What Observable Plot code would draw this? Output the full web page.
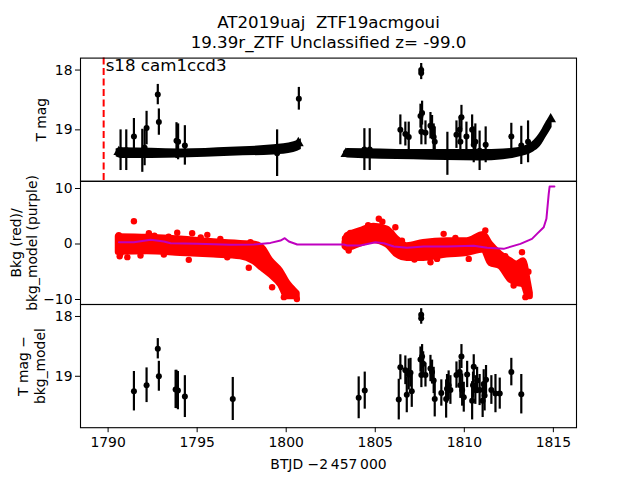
<!DOCTYPE html>
<html><head><meta charset="utf-8">
<script src="https://cdn.jsdelivr.net/npm/d3@7"></script>
<script src="https://cdn.jsdelivr.net/npm/@observablehq/plot@0.6"></script>
<style>
body{margin:0;background:#fff;}
#fig{position:relative;width:640px;height:480px;}
#fig svg{position:absolute;left:0;top:0;}
</style></head><body><div id="fig"></div>
<script>
// ---------- text ----------
const title1 = "AT2019uaj  ZTF19acmgoui";
const title2 = "19.39r_ZTF Unclassified z= -99.0";
const ccdLabel = "s18 cam1ccd3";
const ylabel1 = "T mag";
const ylabel2 = "Bkg (red)/\nbkg_model (purple)";
const ylabel3 = "T mag \u2212\nbkg_model";
const xlabel = "BTJD \u22122\u2009457\u2009000";
const xTicks = [1790, 1795, 1800, 1805, 1810, 1815];
const magTicks = [18, 19];
const bkgTicks = [-10, 0, 10];
const vline = [1789.75];

// ---------- panel 1: dense T mag band (edges) ----------
const bandSeg = [1,1,1,1,1,1,1, 2,2,2,2,2,2,2,2,2,2];
const bandT  = [1790.45,1790.8,1794.07,1796.87,1799.3,1800.43,1800.85, 1803.23,1803.45,1807.16,1810.9,1812.2,1812.96,1813.89,1814.27,1814.65,1814.93];
const bandHi = [19.32,19.30,19.32,19.29,19.25,19.20,19.15, 19.36,19.31,19.33,19.33,19.32,19.30,19.18,19.04,18.85,18.80];
const bandLo = [19.45,19.48,19.47,19.44,19.42,19.38,19.33, 19.44,19.47,19.50,19.52,19.50,19.46,19.37,19.28,19.10,18.96];
const endT = [1790.6, 1800.68, 1803.35, 1814.85];
const endM = [19.37, 19.22, 19.40, 18.82];

// panel 1 individual points with error bars
const p1T = [1790.70,1791.02,1791.45,1791.92,1792.05,1792.16,1792.79,1792.85,1793.84,1793.93,1794.31,1799.49,1800.71,
  1804.39,1804.69,1806.41,1806.69,1806.88,1807.58,1807.58,1807.54,1807.63,1807.59,1807.82,1808.10,1808.19,1808.28,1808.34,
  1809.05,1809.56,1809.74,1809.84,1809.78,1810.12,1810.44,1810.53,1810.62,1810.86,1811.20,1812.64,1813.20,1813.58];
const p1M = [19.34,19.34,19.11,19.35,19.30,18.97,18.41,18.87,19.18,19.20,19.26,19.39,18.48,
  19.33,19.33,19.00,19.07,19.12,18.00,18.05,18.77,18.72,19.03,19.05,18.93,18.96,19.12,19.20,
  19.40,19.08,19.00,18.79,19.20,19.11,19.00,19.25,19.20,19.35,19.25,19.11,19.26,19.20];
const p1E = [0.34,0.34,0.30,0.36,0.30,0.28,0.17,0.22,0.30,0.30,0.33,0.39,0.19,
  0.35,0.35,0.25,0.20,0.25,0.11,0.11,0.20,0.20,0.22,0.20,0.22,0.20,0.22,0.25,
  0.36,0.23,0.22,0.20,0.25,0.24,0.25,0.30,0.30,0.33,0.30,0.22,0.32,0.35];

// ---------- panel 2: background ----------
const bkgSeg = [1,1,1,1,1,1,1,1,1,1,1, 2,2,2,2,2,2,2,2,2,2,2,2,2,2,2,2,2,2];
const bkgT  = [1790.57,1792.2,1794.07,1795.94,1797.44,1798.18,1798.65,1799.12,1799.68,1800.06,1800.62,
  1803.3,1803.42,1804.17,1804.92,1805.67,1806.23,1806.79,1807.72,1809.03,1810.16,1811.09,1811.47,1812.03,1812.59,1812.96,1813.33,1813.61,1813.71];
const bkgHi = [1.3,1.2,0.9,0.4,0.1,0.0,-0.6,-2.9,-4.8,-6.9,-8.9,
  0.3,1.5,2.4,3.2,2.7,0.9,-0.3,0.3,0.6,0.6,1.7,0.0,-1.8,-3.0,-3.6,-3.0,-7.1,-8.9];
const bkgLo = [-1.5,-1.4,-1.7,-2.0,-2.3,-3.2,-4.4,-5.6,-7.4,-9.5,-9.5,
  -0.5,-0.8,0.0,0.6,-0.2,-2.0,-2.6,-2.6,-2.0,-1.7,-1.1,-3.5,-4.1,-6.5,-7.1,-7.4,-9.5,-9.5];
const bkgOutT = [1791.45,1792.29,1793.88,1794.72,1795.57,1794.53,1797.90,1791.08,1791.82,1793.13,1796.69,1797.99,1799.87,1800.43,1799.21,
  1805.2,1806.13,1803.51,1808.1,1808.47,1808.84,1810.25,1811.18,1813.24,1812.77,1813.43,1811.66,
  1790.6,1790.7,1790.65,1792.6,1793.4,1795.2,1796.3,1798.4,1799.4,1800.3,1800.6,1803.3,1803.6,1804.6,1805.4,1805.9,1806.5,1807.2,1809.5,1810.8,1812.3,1813.0,1813.6];
const bkgOutV = [4.11,1.95,2.02,1.95,1.65,-2.85,-4.29,-2.37,-2.07,-1.89,-2.38,0.32,-9.58,-8.68,-7.78,
  4.54,3.03,-1.17,-3.28,-2.68,1.83,-2.68,2.43,-1.48,-7.48,-9.58,-3.28,
  1.6,-1.7,-2.2,1.5,1.3,1.2,0.9,-3.0,-5.2,-8.0,-9.9,1.0,2.0,3.4,4.0,2.0,0.6,-2.8,1.1,1.3,-2.2,-5.5,-5.0];
const modelT = [1790.61,1791.45,1792.39,1793.13,1793.51,1795.0,1796.87,1798.18,1799.12,1799.68,1799.92,1800.15,1800.62,
  1803.23,1803.42,1804.17,1805.01,1805.48,1806.04,1806.79,1807.72,1809.03,1810.53,1811.28,1812.21,1813.15,1813.8,1814.08,1814.46,1814.61,1814.74,1814.79,1815.06];
const modelV = [0.32,0.30,0.76,0.46,0.14,0.03,-0.15,-0.10,0.20,0.63,1.05,0.45,-0.09,
  -0.09,-0.27,-0.27,0.32,0.14,-0.45,-0.69,-0.45,-0.45,-0.33,-0.69,-0.87,0.03,0.93,1.83,3.03,4.54,9.05,10.36,10.36];

// ---------- panel 3: T mag - bkg_model ----------
const p3T = [1791.45,1792.16,1792.79,1792.85,1793.79,1793.84,1793.92,1794.31,1797.00,1804.07,1804.41,1806.32,1806.41,1806.69,1806.77,
  1806.88,1806.98,1807.05,1807.58,1807.58,1807.54,1807.63,1807.59,1807.69,1807.82,1808.10,1808.19,1808.28,1808.34,1808.71,
  1808.98,1809.03,1809.12,1809.22,1809.56,1809.74,1809.84,1809.78,1809.88,1809.97,1810.16,1810.44,1810.53,1810.49,1810.62,
  1810.72,1810.86,1811.03,1811.09,1811.14,1811.22,1811.52,1811.75,1811.99,1812.64,1813.20];
const p3M = [19.25,19.15,18.54,19.00,19.22,19.22,19.24,19.34,19.38,19.36,19.24,19.39,18.85,18.90,19.31,
  18.97,18.94,19.25,17.97,18.03,18.72,18.67,18.98,18.79,18.98,18.87,18.93,19.07,19.38,19.28,
  19.38,19.21,19.15,19.23,18.98,18.93,18.67,19.15,19.23,19.35,18.97,19.41,18.84,19.15,19.23,
  19.07,19.23,19.41,19.13,19.32,19.06,19.23,19.29,19.29,18.93,19.30];
const p3E = [0.33,0.29,0.17,0.25,0.32,0.32,0.32,0.35,0.36,0.35,0.31,0.34,0.21,0.24,0.30,
  0.26,0.24,0.27,0.10,0.10,0.21,0.20,0.21,0.20,0.20,0.22,0.20,0.22,0.30,0.22,
  0.32,0.24,0.24,0.24,0.22,0.20,0.20,0.22,0.27,0.25,0.22,0.32,0.20,0.22,0.24,
  0.22,0.26,0.28,0.24,0.26,0.24,0.24,0.32,0.26,0.23,0.33];

// ---------- build tables ----------
const band = bandT.map((t,i)=>({t, seg: bandSeg[i], hi: bandHi[i], lo: bandLo[i]}));
const ends = endT.map((t,i)=>({t, m: endM[i]}));
const p1 = p1T.map((t,i)=>({t, m: p1M[i], e: p1E[i]}));
const bkg = bkgT.map((t,i)=>({t, seg: bkgSeg[i], hi: bkgHi[i], lo: bkgLo[i]}));
const bkgOut = bkgOutT.map((t,i)=>({t, v: bkgOutV[i]}));
const model = modelT.map((t,i)=>({t, v: modelV[i]}));
const p3 = p3T.map((t,i)=>({t, m: p3M[i], e: p3E[i]}));

const PH = 123.2;
const fmt = d => d < 0 ? "\u2212" + Math.abs(d) : String(d);
const FONT = "'DejaVu Sans', sans-serif";

function panel(i, yOpts, marks, showX) {
  return Plot.plot({
    width: 640, height: 480,
    marginLeft: 80, marginRight: 64,
    marginTop: 57.6 + i * PH, marginBottom: 52.8 + (2 - i) * PH,
    style: {background: "transparent", fontFamily: FONT, fontSize: "13.9px", color: "black", overflow: "visible"},
    x: {domain: [1788.45, 1816.3], ticks: xTicks, tickFormat: fmt, tickSize: 5, tickPadding: 4, label: null, axis: showX ? "bottom" : null},
    y: Object.assign({tickSize: 5, tickPadding: 3, label: null, tickFormat: fmt}, yOpts),
    marks: [...marks, Plot.frame({stroke: "black", strokeWidth: 1.1})]
  });
}

const yl = (txt, dx) => Plot.text([txt], {text: d => d, frameAnchor: "left", textAnchor: "middle", rotate: -90, dx, lineAnchor: "middle", lineHeight: 1.2, fontSize: 13.9, fill: "black"});

const fig = document.getElementById("fig");

fig.append(panel(0, {domain: [17.8, 19.86], reverse: true, ticks: magTicks}, [
  Plot.areaY(band, {x: "t", y1: "lo", y2: "hi", z: "seg", fill: "black", curve: "monotone-x"}),
  Plot.dot(ends, {x: "t", y: "m", symbol: "triangle", r: 4, fill: "black"}),
  Plot.ruleX(p1, {x: "t", y1: d => d.m - d.e, y2: d => d.m + d.e, stroke: "black", strokeWidth: 2.2}),
  Plot.dot(p1, {x: "t", y: "m", r: 3, fill: "black"}),
  Plot.ruleX(vline, {x: d => d, stroke: "#ff0000", strokeWidth: 2, strokeDasharray: "7,3.5"}),
  Plot.text([ccdLabel], {text: d => d, x: () => vline[0], frameAnchor: "top", textAnchor: "start", lineAnchor: "top", dx: 2, dy: 1, fontSize: 16.67, fill: "black"}),
  Plot.text([title1], {text: d => d, frameAnchor: "top", lineAnchor: "bottom", dy: -29.9, fontSize: 16.67, fill: "black"}),
  Plot.text([title2], {text: d => d, frameAnchor: "top", lineAnchor: "bottom", dy: -9.9, fontSize: 16.67, fill: "black"}),
  yl(ylabel1, -40.3)
], false));

fig.append(panel(1, {domain: [-10.9, 11.3], ticks: bkgTicks}, [
  Plot.areaY(bkg, {x: "t", y1: "lo", y2: "hi", z: "seg", fill: "#ff0000", stroke: "#ff0000", strokeWidth: 6, strokeLinejoin: "round", curve: "monotone-x"}),
  Plot.dot(bkgOut, {x: "t", y: "v", r: 3.2, fill: "#ff0000"}),
  Plot.line(model, {x: "t", y: "v", stroke: "#bf00bf", strokeWidth: 2}),
  yl(ylabel2, -56.7)
], false));

fig.append(panel(2, {domain: [17.8, 19.86], reverse: true, ticks: magTicks}, [
  Plot.ruleX(p3, {x: "t", y1: d => d.m - d.e, y2: d => d.m + d.e, stroke: "black", strokeWidth: 2.2}),
  Plot.dot(p3, {x: "t", y: "m", r: 3, fill: "black"}),
  yl(ylabel3, -49.5),
  Plot.text([xlabel], {text: d => d, frameAnchor: "bottom", lineAnchor: "bottom", dy: 41.1, fontSize: 13.9, fill: "black"})
], true));
</script></body></html>
